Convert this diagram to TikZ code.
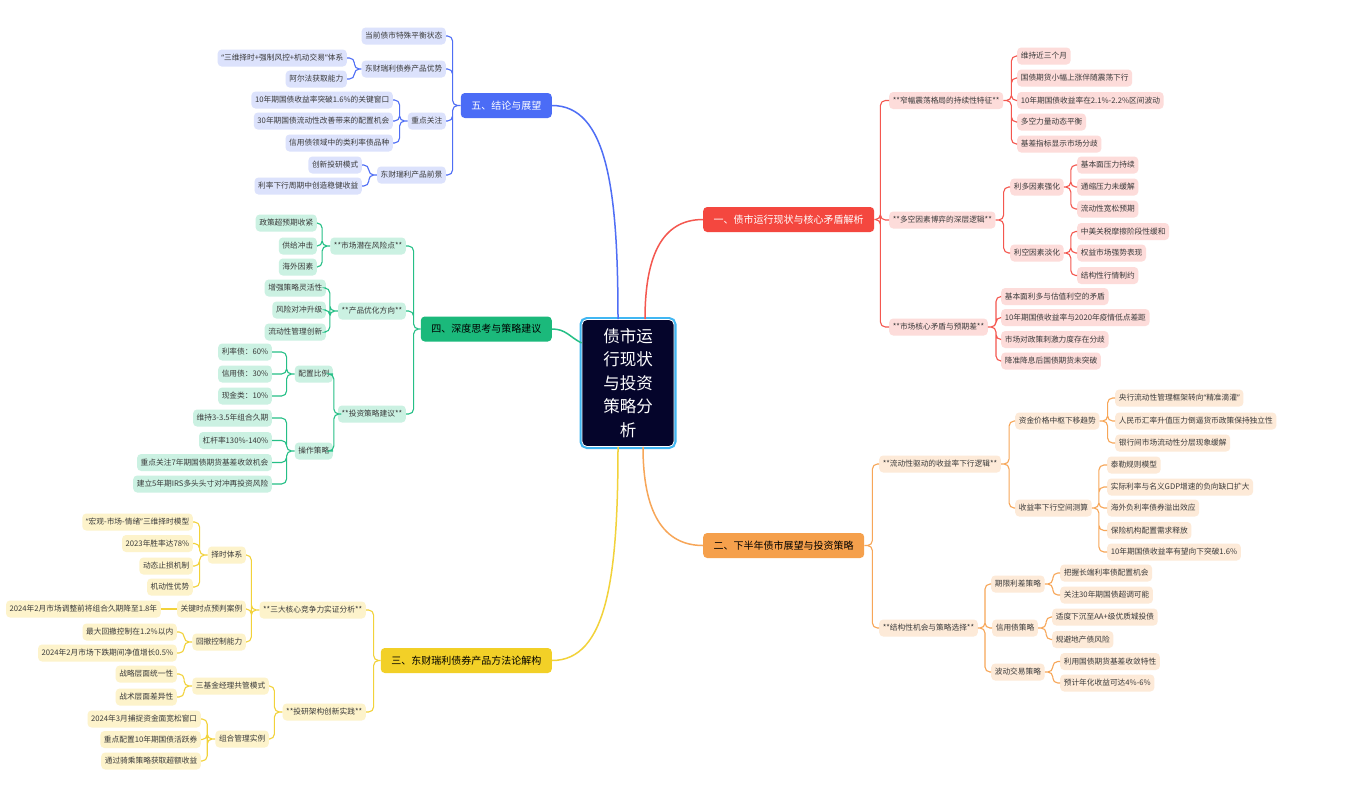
\documentclass[tikz,border=0pt]{standalone}
\usepackage{fontspec}
\newfontfamily\cjk{Noto Sans CJK SC}
\newfontfamily\latin{Noto Sans}
\newcommand{\lquo}{{\latin “}}
\newcommand{\rquo}{{\latin ”}}
\definecolor{redmain}{HTML}{F4473F}
\definecolor{redleaf}{HTML}{FDDCDA}
\definecolor{redline}{HTML}{F4574F}
\definecolor{orangemain}{HTML}{F5A04C}
\definecolor{orangeleaf}{HTML}{FDEAD8}
\definecolor{orangeline}{HTML}{F7A658}
\definecolor{yellowmain}{HTML}{F2D027}
\definecolor{yellowleaf}{HTML}{FDF3CB}
\definecolor{yellowline}{HTML}{F2D23A}
\definecolor{greenmain}{HTML}{1BB97B}
\definecolor{greenleaf}{HTML}{CBF1E2}
\definecolor{greenline}{HTML}{25BF86}
\definecolor{bluemain}{HTML}{4B6CF6}
\definecolor{blueleaf}{HTML}{DCE2FC}
\definecolor{blueline}{HTML}{4F6EF5}
\definecolor{rootfill}{HTML}{05052B}
\definecolor{rootedge}{HTML}{40B6F2}
\definecolor{leaftext}{HTML}{3A3A3A}
\tikzset{
  rootbox/.style={fill=rootfill, draw=white, line width=0.8pt, rounded corners=5pt,
    preaction={draw=rootedge, line width=5pt}, minimum width=92pt, minimum height=127pt,
    align=center, text=white, font=\cjk\fontsize{16.5}{23.5}\selectfont},
  topic/.style={fill=#1, rounded corners=4pt, minimum height=25pt, inner xsep=10.5pt,
    inner ysep=0pt, font=\cjk\fontsize{10}{12}\selectfont},
  leaf/.style={fill=#1, rounded corners=4pt, minimum height=17pt, inner xsep=3.6pt,
    inner ysep=0pt, text=leaftext, font=\cjk\fontsize{7.7}{9}\selectfont},
  link/.style={draw=#1, line width=1.1pt, rounded corners=5pt},
  stem/.style={draw=#1, line width=1.5pt}
}
\begin{document}
\begin{tikzpicture}[x=1pt,y=-1pt]
\fill[white] (0,0) rectangle (1345,793);
\useasboundingbox (0,0) rectangle (1345,793);
\node[rootbox] (root) at (628,383) {债市运\\行现状\\与投资\\策略分\\析};
% main topics
\node[topic=redmain, text=white, anchor=west] (m1) at (703,219.5) {一、债市运行现状与核心矛盾解析};
\node[topic=orangemain, text=black, anchor=west] (m2) at (703,545.5) {二、下半年债市展望与投资策略};
\node[topic=yellowmain, text=black, anchor=east] (m3) at (552,660.5) {三、东财瑞利债券产品方法论解构};
\node[topic=greenmain, text=black, anchor=east] (m4) at (552,329) {四、深度思考与策略建议};
\node[topic=bluemain, text=white, anchor=east] (m5) at (552,105.5) {五、结论与展望};
\draw[stem=blueline] ([xshift=-10pt]root.north) .. controls +(0,-130) and +(55,0) .. (m5.east);
\draw[stem=redline] ([xshift=17pt]root.north) .. controls +(0,-65) and +(-40,0) .. (m1.west);
\draw[stem=greenline] (m4.east) .. controls +(14,0) and +(-12,-6) .. ([yshift=40pt]root.west);
\draw[stem=yellowline] ([xshift=-10pt]root.south) .. controls +(0,130) and +(55,0) .. (m3.east);
\draw[stem=orangeline] ([xshift=15pt]root.south) .. controls +(0,65) and +(-40,0) .. (m2.west);
% branch one
\node[leaf=redleaf, anchor=west] (m1a) at (889,100.5) {**窄幅震荡格局的持续性特征**};
\node[leaf=redleaf, anchor=west] (m1b) at (889,220) {**多空因素博弈的深层逻辑**};
\node[leaf=redleaf, anchor=west] (m1c) at (889,327) {**市场核心矛盾与预期差**};
\node[leaf=redleaf, anchor=west] (m1a1) at (1017,56) {维持近三个月};
\node[leaf=redleaf, anchor=west] (m1a2) at (1017,78) {国债期货小幅上涨伴随震荡下行};
\node[leaf=redleaf, anchor=west] (m1a3) at (1017,100.5) {10年期国债收益率在2.1\%-2.2\%区间波动};
\node[leaf=redleaf, anchor=west] (m1a4) at (1017,122) {多空力量动态平衡};
\node[leaf=redleaf, anchor=west] (m1a5) at (1017,144) {基差指标显示市场分歧};
\node[leaf=redleaf, anchor=west] (m1b1) at (1010,187) {利多因素强化};
\node[leaf=redleaf, anchor=west] (m1b2) at (1010,253) {利空因素淡化};
\node[leaf=redleaf, anchor=west] (m1b1a) at (1077,165) {基本面压力持续};
\node[leaf=redleaf, anchor=west] (m1b1b) at (1077,187) {通缩压力未缓解};
\node[leaf=redleaf, anchor=west] (m1b1c) at (1077,209) {流动性宽松预期};
\node[leaf=redleaf, anchor=west] (m1b2a) at (1077,231.5) {中美关税摩擦阶段性缓和};
\node[leaf=redleaf, anchor=west] (m1b2b) at (1077,253) {权益市场强势表现};
\node[leaf=redleaf, anchor=west] (m1b2c) at (1077,275.5) {结构性行情制约};
\node[leaf=redleaf, anchor=west] (m1c1) at (1001,296.5) {基本面利多与估值利空的矛盾};
\node[leaf=redleaf, anchor=west] (m1c2) at (1001,317.5) {10年期国债收益率与2020年疫情低点差距};
\node[leaf=redleaf, anchor=west] (m1c3) at (1001,339.5) {市场对政策刺激力度存在分歧};
\node[leaf=redleaf, anchor=west] (m1c4) at (1001,361) {降准降息后国债期货未突破};
\draw[link=redline] (m1.east) -- ++(6,0) |- (m1a.west) (m1.east) -- ++(6,0) |- (m1b.west) (m1.east) -- ++(6,0) |- (m1c.west);
\draw[link=redline] (m1a.east) -- ++(8,0) |- (m1a1.west) (m1a.east) -- ++(8,0) |- (m1a2.west) (m1a.east) -- ++(8,0) |- (m1a3.west) (m1a.east) -- ++(8,0) |- (m1a4.west) (m1a.east) -- ++(8,0) |- (m1a5.west);
\draw[link=redline] (m1b.east) -- ++(8,0) |- (m1b1.west) (m1b.east) -- ++(8,0) |- (m1b2.west);
\draw[link=redline] (m1b1.east) -- ++(7,0) |- (m1b1a.west) (m1b1.east) -- ++(7,0) |- (m1b1b.west) (m1b1.east) -- ++(7,0) |- (m1b1c.west);
\draw[link=redline] (m1b2.east) -- ++(7,0) |- (m1b2a.west) (m1b2.east) -- ++(7,0) |- (m1b2b.west) (m1b2.east) -- ++(7,0) |- (m1b2c.west);
\draw[link=redline] (m1c.east) -- ++(8,0) |- (m1c1.west) (m1c.east) -- ++(8,0) |- (m1c2.west) (m1c.east) -- ++(8,0) |- (m1c3.west) (m1c.east) -- ++(8,0) |- (m1c4.west);
% branch two
\node[leaf=orangeleaf, anchor=west] (m2a) at (879,464) {**流动性驱动的收益率下行逻辑**};
\node[leaf=orangeleaf, anchor=west] (m2b) at (879,628) {**结构性机会与策略选择**};
\node[leaf=orangeleaf, anchor=west] (m2a1) at (1015,421) {资金价格中枢下移趋势};
\node[leaf=orangeleaf, anchor=west] (m2a2) at (1015,508) {收益率下行空间测算};
\node[leaf=orangeleaf, anchor=west] (m2a1a) at (1115,398) {央行流动性管理框架转向\lquo 精准滴灌\rquo};
\node[leaf=orangeleaf, anchor=west] (m2a1b) at (1115,421) {人民币汇率升值压力倒逼货币政策保持独立性};
\node[leaf=orangeleaf, anchor=west] (m2a1c) at (1115,443) {银行间市场流动性分层现象缓解};
\node[leaf=orangeleaf, anchor=west] (m2a2a) at (1107,465) {泰勒规则模型};
\node[leaf=orangeleaf, anchor=west] (m2a2b) at (1107,487) {实际利率与名义GDP增速的负向缺口扩大};
\node[leaf=orangeleaf, anchor=west] (m2a2c) at (1107,508) {海外负利率债券溢出效应};
\node[leaf=orangeleaf, anchor=west] (m2a2d) at (1107,530.5) {保险机构配置需求释放};
\node[leaf=orangeleaf, anchor=west] (m2a2e) at (1107,552) {10年期国债收益率有望向下突破1.6\%};
\node[leaf=orangeleaf, anchor=west] (m2b1) at (991,584) {期限利差策略};
\node[leaf=orangeleaf, anchor=west] (m2b2) at (992,628) {信用债策略};
\node[leaf=orangeleaf, anchor=west] (m2b3) at (991,672) {波动交易策略};
\node[leaf=orangeleaf, anchor=west] (m2b1a) at (1060,573) {把握长端利率债配置机会};
\node[leaf=orangeleaf, anchor=west] (m2b1b) at (1060,595) {关注30年期国债超调可能};
\node[leaf=orangeleaf, anchor=west] (m2b2a) at (1052,617) {适度下沉至AA+级优质城投债};
\node[leaf=orangeleaf, anchor=west] (m2b2b) at (1052,639.5) {规避地产债风险};
\node[leaf=orangeleaf, anchor=west] (m2b3a) at (1060,661.5) {利用国债期货基差收敛特性};
\node[leaf=orangeleaf, anchor=west] (m2b3b) at (1060,683) {预计年化收益可达4\%-6\%};
\draw[link=orangeline] (m2.east) -- ++(8,0) |- (m2a.west) (m2.east) -- ++(8,0) |- (m2b.west);
\draw[link=orangeline] (m2a.east) -- ++(8,0) |- (m2a1.west) (m2a.east) -- ++(8,0) |- (m2a2.west);
\draw[link=orangeline] (m2a1.east) -- ++(8,0) |- (m2a1a.west) (m2a1.east) -- ++(8,0) |- (m2a1b.west) (m2a1.east) -- ++(8,0) |- (m2a1c.west);
\draw[link=orangeline] (m2a2.east) -- ++(7,0) |- (m2a2a.west) (m2a2.east) -- ++(7,0) |- (m2a2b.west) (m2a2.east) -- ++(7,0) |- (m2a2c.west) (m2a2.east) -- ++(7,0) |- (m2a2d.west) (m2a2.east) -- ++(7,0) |- (m2a2e.west);
\draw[link=orangeline] (m2b.east) -- ++(7,0) |- (m2b1.west) (m2b.east) -- ++(7,0) |- (m2b2.west) (m2b.east) -- ++(7,0) |- (m2b3.west);
\draw[link=orangeline] (m2b1.east) -- ++(8,0) |- (m2b1a.west) (m2b1.east) -- ++(8,0) |- (m2b1b.west);
\draw[link=orangeline] (m2b2.east) -- ++(8,0) |- (m2b2a.west) (m2b2.east) -- ++(8,0) |- (m2b2b.west);
\draw[link=orangeline] (m2b3.east) -- ++(8,0) |- (m2b3a.west) (m2b3.east) -- ++(8,0) |- (m2b3b.west);
% branch three
\node[leaf=yellowleaf, anchor=east] (m3a) at (366,610) {**三大核心竞争力实证分析**};
\node[leaf=yellowleaf, anchor=east] (m3b) at (366,712) {**投研架构创新实践**};
\node[leaf=yellowleaf, anchor=east] (m3a1) at (246,555) {择时体系};
\node[leaf=yellowleaf, anchor=east] (m3a2) at (246,609) {关键时点预判案例};
\node[leaf=yellowleaf, anchor=east] (m3a3) at (246,642) {回撤控制能力};
\node[leaf=yellowleaf, anchor=east] (m3a1a) at (193,522) {\lquo 宏观-市场-情绪\rquo 三维择时模型};
\node[leaf=yellowleaf, anchor=east] (m3a1b) at (193,543.5) {2023年胜率达78\%};
\node[leaf=yellowleaf, anchor=east] (m3a1c) at (193,566) {动态止损机制};
\node[leaf=yellowleaf, anchor=east] (m3a1d) at (193,587) {机动性优势};
\node[leaf=yellowleaf, anchor=east] (m3a2a) at (161,609) {2024年2月市场调整前将组合久期降至1.8年};
\node[leaf=yellowleaf, anchor=east] (m3a3a) at (177,632) {最大回撤控制在1.2\%以内};
\node[leaf=yellowleaf, anchor=east] (m3a3b) at (177,653) {2024年2月市场下跌期间净值增长0.5\%};
\node[leaf=yellowleaf, anchor=east] (m3b1) at (269,686) {三基金经理共管模式};
\node[leaf=yellowleaf, anchor=east] (m3b2) at (269,739) {组合管理实例};
\node[leaf=yellowleaf, anchor=east] (m3b1a) at (177,674) {战略层面统一性};
\node[leaf=yellowleaf, anchor=east] (m3b1b) at (177,697) {战术层面差异性};
\node[leaf=yellowleaf, anchor=east] (m3b2a) at (201,719) {2024年3月捕捉资金面宽松窗口};
\node[leaf=yellowleaf, anchor=east] (m3b2b) at (201,739.5) {重点配置10年期国债活跃券};
\node[leaf=yellowleaf, anchor=east] (m3b2c) at (201,761) {通过骑乘策略获取超额收益};
\draw[link=yellowline] (m3.west) -- ++(-7,0) |- (m3a.east) (m3.west) -- ++(-7,0) |- (m3b.east);
\draw[link=yellowline] (m3a.west) -- ++(-8,0) |- (m3a1.east) (m3a.west) -- ++(-8,0) |- (m3a2.east) (m3a.west) -- ++(-8,0) |- (m3a3.east);
\draw[link=yellowline] (m3a1.west) -- ++(-8,0) |- (m3a1a.east) (m3a1.west) -- ++(-8,0) |- (m3a1b.east) (m3a1.west) -- ++(-8,0) |- (m3a1c.east) (m3a1.west) -- ++(-8,0) |- (m3a1d.east);
\draw[link=yellowline] (m3a2.west) -- (m3a2a.east);
\draw[link=yellowline] (m3a3.west) -- ++(-8,0) |- (m3a3a.east) (m3a3.west) -- ++(-8,0) |- (m3a3b.east);
\draw[link=yellowline] (m3b.west) -- ++(-8,0) |- (m3b1.east) (m3b.west) -- ++(-8,0) |- (m3b2.east);
\draw[link=yellowline] (m3b1.west) -- ++(-8,0) |- (m3b1a.east) (m3b1.west) -- ++(-8,0) |- (m3b1b.east);
\draw[link=yellowline] (m3b2.west) -- ++(-8,0) |- (m3b2a.east) (m3b2.west) -- ++(-8,0) |- (m3b2b.east) (m3b2.west) -- ++(-8,0) |- (m3b2c.east);
% branch four
\node[leaf=greenleaf, anchor=east] (m4a) at (406,246) {**市场潜在风险点**};
\node[leaf=greenleaf, anchor=east] (m4b) at (406,311) {**产品优化方向**};
\node[leaf=greenleaf, anchor=east] (m4c) at (406,414) {**投资策略建议**};
\node[leaf=greenleaf, anchor=east] (m4a1) at (317,223) {政策超预期收紧};
\node[leaf=greenleaf, anchor=east] (m4a2) at (317,246) {供给冲击};
\node[leaf=greenleaf, anchor=east] (m4a3) at (317,267) {海外因素};
\node[leaf=greenleaf, anchor=east] (m4b1) at (326,288) {增强策略灵活性};
\node[leaf=greenleaf, anchor=east] (m4b2) at (326,310) {风险对冲升级};
\node[leaf=greenleaf, anchor=east] (m4b3) at (326,332) {流动性管理创新};
\node[leaf=greenleaf, anchor=east] (m4c1) at (333,374) {配置比例};
\node[leaf=greenleaf, anchor=east] (m4c2) at (333,451) {操作策略};
\node[leaf=greenleaf, anchor=east] (m4c1a) at (272,352) {利率债：60\%};
\node[leaf=greenleaf, anchor=east] (m4c1b) at (272,374) {信用债：30\%};
\node[leaf=greenleaf, anchor=east] (m4c1c) at (272,396) {现金类：10\%};
\node[leaf=greenleaf, anchor=east] (m4c2a) at (272,418) {维持3-3.5年组合久期};
\node[leaf=greenleaf, anchor=east] (m4c2b) at (272,440.5) {杠杆率130\%-140\%};
\node[leaf=greenleaf, anchor=east] (m4c2c) at (272,462.5) {重点关注7年期国债期货基差收敛机会};
\node[leaf=greenleaf, anchor=east] (m4c2d) at (272,484) {建立5年期IRS多头头寸对冲再投资风险};
\draw[link=greenline] (m4.west) -- ++(-7,0) |- (m4a.east) (m4.west) -- ++(-7,0) |- (m4b.east) (m4.west) -- ++(-7,0) |- (m4c.east);
\draw[link=greenline] (m4a.west) -- ++(-8,0) |- (m4a1.east) (m4a.west) -- ++(-8,0) |- (m4a2.east) (m4a.west) -- ++(-8,0) |- (m4a3.east);
\draw[link=greenline] (m4b.west) -- ++(-8,0) |- (m4b1.east) (m4b.west) -- ++(-8,0) |- (m4b2.east) (m4b.west) -- ++(-8,0) |- (m4b3.east);
\draw[link=greenline] (m4c.west) -- ++(-4,0) |- (m4c1.east) (m4c.west) -- ++(-4,0) |- (m4c2.east);
\draw[link=greenline] (m4c1.west) -- ++(-8,0) |- (m4c1a.east) (m4c1.west) -- ++(-8,0) |- (m4c1b.east) (m4c1.west) -- ++(-8,0) |- (m4c1c.east);
\draw[link=greenline] (m4c2.west) -- ++(-8,0) |- (m4c2a.east) (m4c2.west) -- ++(-8,0) |- (m4c2b.east) (m4c2.west) -- ++(-8,0) |- (m4c2c.east) (m4c2.west) -- ++(-8,0) |- (m4c2d.east);
% branch five
\node[leaf=blueleaf, anchor=east] (m5a) at (446,36) {当前债市特殊平衡状态};
\node[leaf=blueleaf, anchor=east] (m5b) at (446,69) {东财瑞利债券产品优势};
\node[leaf=blueleaf, anchor=east] (m5c) at (446,121) {重点关注};
\node[leaf=blueleaf, anchor=east] (m5d) at (446,175) {东财瑞利产品前景};
\node[leaf=blueleaf, anchor=east] (m5b1) at (347,58) {\lquo 三维择时+强制风控+机动交易\rquo 体系};
\node[leaf=blueleaf, anchor=east] (m5b2) at (347,79) {阿尔法获取能力};
\node[leaf=blueleaf, anchor=east] (m5c1) at (393,100) {10年期国债收益率突破1.6\%的关键窗口};
\node[leaf=blueleaf, anchor=east] (m5c2) at (393,121) {30年期国债流动性改善带来的配置机会};
\node[leaf=blueleaf, anchor=east] (m5c3) at (393,143) {信用债领域中的类利率债品种};
\node[leaf=blueleaf, anchor=east] (m5d1) at (362,165) {创新投研模式};
\node[leaf=blueleaf, anchor=east] (m5d2) at (362,186) {利率下行周期中创造稳健收益};
\draw[link=blueline] (m5.west) -- ++(-8,0) |- (m5a.east) (m5.west) -- ++(-8,0) |- (m5b.east) (m5.west) -- ++(-8,0) |- (m5c.east) (m5.west) -- ++(-8,0) |- (m5d.east);
\draw[link=blueline] (m5b.west) -- ++(-7,0) |- (m5b1.east) (m5b.west) -- ++(-7,0) |- (m5b2.east);
\draw[link=blueline] (m5c.west) -- ++(-8,0) |- (m5c1.east) (m5c.west) -- ++(-8,0) |- (m5c2.east) (m5c.west) -- ++(-8,0) |- (m5c3.east);
\draw[link=blueline] (m5d.west) -- ++(-8,0) |- (m5d1.east) (m5d.west) -- ++(-8,0) |- (m5d2.east);
\end{tikzpicture}
\end{document}
